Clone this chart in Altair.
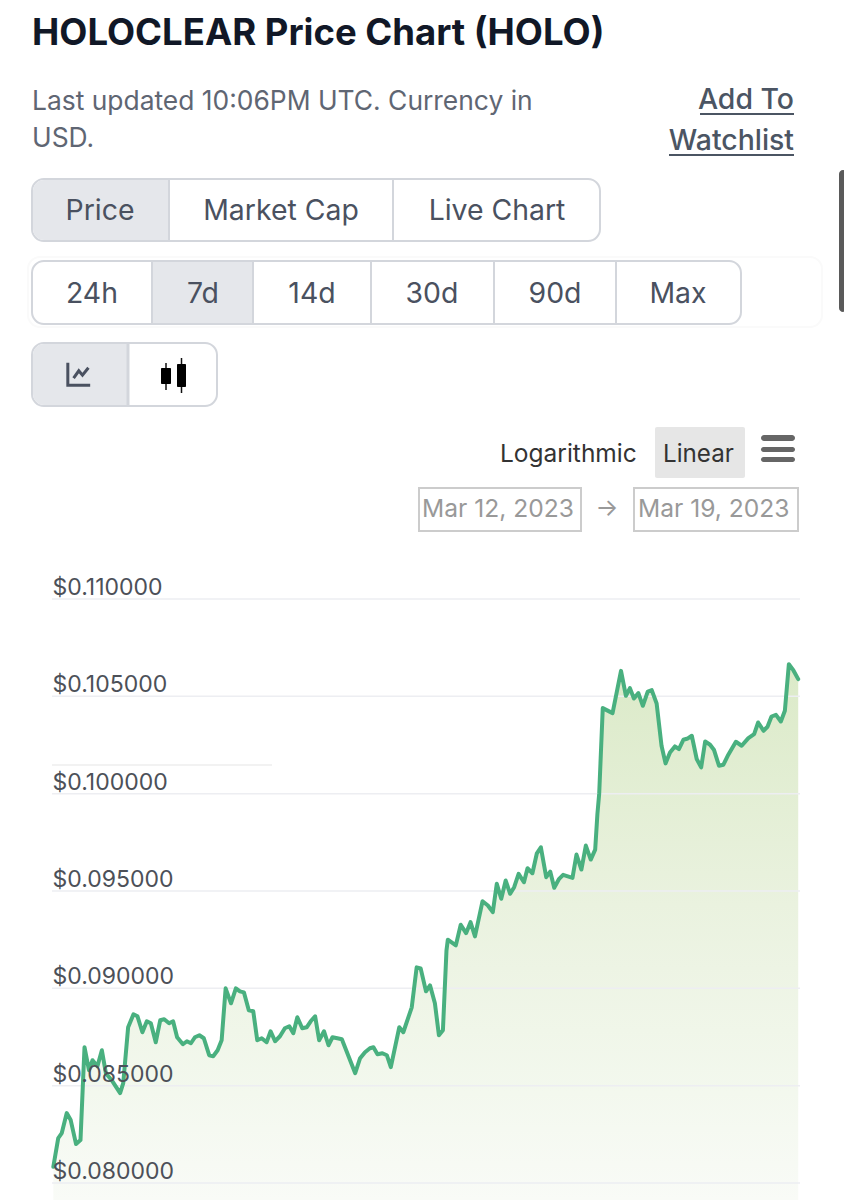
import altair as alt
import pandas as pd

# ---- chart data ----
hours = [0.3,1.4,2.2,3.3,4.2,5.4,6.4,7.3,8.3,9.1,10.2,11.2,12.1,13.4,15.3,16.0,17.1,18.3,19.2,20.3,
21.3,22.2,23.3,24.3,25.2,26.3,27.2,28.1,29.4,30.3,31.2,32.1,33.1,34.1,35.3,36.2,37.2,38.1,39.0,40.2,
41.3,42.2,43.1,44.2,45.2,46.1,47.1,48.2,49.1,50.1,51.2,52.3,53.3,54.2,55.1,56.2,57.2,58.1,59.1,60.0,
61.1,62.1,63.0,64.1,65.1,68.1,69.2,70.3,71.4,72.2,73.1,74.2,75.2,76.1,78.0,78.9,80.8,81.9,82.8,84.0,
84.9,86.0,86.9,87.8,88.6,88.9,90.7,91.8,93.0,94.0,95.0,96.7,97.9,99.0,99.9,100.9,101.9,102.9,103.8,104.8,
106.0,106.8,107.9,108.9,109.8,111.0,111.9,112.8,113.9,114.8,116.9,117.8,118.9,119.9,121.0,122.0,122.5,122.9,123.7,125.9,
127.8,128.9,129.8,130.7,131.7,132.7,133.8,134.7,135.8,136.9,137.8,138.8,139.9,140.8,141.8,142.8,143.7,144.8,145.8,146.7,
147.8,148.7,149.8,150.8,151.9,153.6,154.9,156.4,157.7,158.6,159.8,160.7,161.6,162.6,163.7,164.6,165.5,166.5,167.6]
prices = [0.080836,0.082308,0.082564,0.083590,0.083231,0.082000,0.082205,0.086974,0.085795,0.086308,
0.086000,0.086821,0.085641,0.085282,0.084615,0.085128,0.088000,0.088667,0.088564,0.087744,
0.088308,0.088205,0.087231,0.088359,0.088410,0.088205,0.088308,0.087487,0.087128,0.087282,
0.087179,0.087487,0.087590,0.087436,0.086564,0.086513,0.086821,0.087333,0.090000,0.089231,
0.090000,0.089846,0.089795,0.088872,0.088821,0.087333,0.087436,0.087231,0.087795,0.087282,
0.087538,0.087949,0.088051,0.087692,0.088513,0.087949,0.088000,0.088308,0.088564,0.087333,
0.087795,0.087077,0.087487,0.087436,0.087385,0.085641,0.086410,0.086718,0.086923,0.086974,
0.086615,0.086667,0.086564,0.085949,0.088000,0.087744,0.089026,0.091077,0.091026,0.089846,
0.090154,0.089231,0.087590,0.087846,0.091949,0.092497,0.092205,0.093267,0.092836,0.093400,
0.092667,0.094477,0.094256,0.093913,0.095369,0.094600,0.095538,0.094856,0.095195,0.095882,
0.095451,0.096169,0.095913,0.096938,0.097246,0.095708,0.096000,0.095164,0.095626,0.095831,
0.095677,0.096872,0.096103,0.097333,0.096615,0.097128,0.098959,0.100000,0.104395,0.104138,
0.106308,0.105026,0.105421,0.104887,0.105164,0.104513,0.105246,0.105318,0.104631,0.102462,
0.101554,0.102118,0.102426,0.102292,0.102769,0.102836,0.102974,0.101779,0.101349,0.102682,
0.102513,0.102241,0.101436,0.101487,0.102000,0.102667,0.102462,0.102856,0.103062,0.103656,
0.103231,0.103436,0.103964,0.104051,0.103708,0.104256,0.106651,0.106344,0.105882]
y_ticks = [0.08, 0.085, 0.09, 0.095, 0.10, 0.105, 0.11]
y_floor = 0.079127

# ---- page texts ----
title_text = "HOLOCLEAR Price Chart (HOLO)"
subtitle_lines = ["Last updated 10:06PM UTC. Currency in", "USD."]
watch_lines = ["Add To", "Watchlist"]
metric_buttons = ["Price", "Market Cap", "Live Chart"]
range_buttons = ["24h", "7d", "14d", "30d", "90d", "Max"]
date_texts = ["Mar 12, 2023", "Mar 19, 2023"]

FONT = "Inter"
X0, Y0 = 52, 599   # page position of the plot area's top-left corner
W, H = 748, 601


def vx(p):
    return alt.value(p - X0)


def vy(p):
    return alt.value(p - Y0)


one = pd.DataFrame({"a": [0]})


def text(s, x, y, size, color, align="left", weight=400, font=FONT):
    return alt.Chart(pd.DataFrame({"t": [s]})).mark_text(
        align=align, baseline="middle", fontSize=size, color=color,
        fontWeight=weight, font=font
    ).encode(x=vx(x), y=vy(y + 1.5), text="t:N")


def box(x1, x2, y1, y2, fill="white", stroke=None, sw=2, **kw):
    args = dict(fill=fill, **kw)
    if stroke:
        args.update(stroke=stroke, strokeWidth=sw)
    return alt.Chart(one).mark_rect(**args).encode(
        x=vx(x1), x2=vx(x2), y=vy(y1), y2=vy(y2))


def rule(x1, x2, y1, y2, color, sw=2):
    return alt.Chart(one).mark_rule(color=color, strokeWidth=sw).encode(
        x=vx(x1), x2=vx(x2), y=vy(y1), y2=vy(y2))


def icon(path, x, y, size, color, sw):
    return alt.Chart(one).mark_point(
        shape=path, size=size, filled=False, stroke=color, strokeWidth=sw, opacity=1
    ).encode(x=vx(x), y=vy(y))


BORDER = "#d3d6dc"
SEL = "#e5e7eb"
INK = "#4a5160"

chrome = [
    text(title_text, 32, 32, 36.5, "#111827", weight=700),
    text(subtitle_lines[0], 32, 100, 26.4, "#5f6673"),
    text(subtitle_lines[1], 32, 137, 26.4, "#5f6673"),
    text(watch_lines[0], 794, 98.5, 28.4, "#4b5563", align="right", weight=500),
    text(watch_lines[1], 794, 139.5, 28.4, "#4b5563", align="right", weight=500),
    rule(700, 794, 114, 114, "#4b5563"),
    rule(669, 794, 155, 155, "#4b5563"),
    # metric button group
    box(32, 600, 179, 241, stroke=BORDER, cornerRadius=12),
    box(33, 169, 180, 240, fill=SEL, cornerRadiusTopLeft=11, cornerRadiusBottomLeft=11),
    rule(169, 169, 179, 241, BORDER),
    rule(393, 393, 179, 241, BORDER),
    text(metric_buttons[0], 100, 209, 28.4, INK, align="center"),
    text(metric_buttons[1], 281, 209, 28.4, INK, align="center"),
    text(metric_buttons[2], 497, 209, 28.4, INK, align="center"),
    # range button group
    box(28, 822, 257, 327, fill="white", stroke="#fafafa", cornerRadius=12),
    box(32, 741, 261, 324, stroke=BORDER, cornerRadius=12),
    box(152, 253, 262, 323, fill=SEL),
    rule(152, 152, 261, 324, BORDER),
    rule(253, 253, 261, 324, BORDER),
    rule(371, 371, 261, 324, BORDER),
    rule(494, 494, 261, 324, BORDER),
    rule(616, 616, 261, 324, BORDER),
    text(range_buttons[0], 92, 292, 28.4, INK, align="center"),
    text(range_buttons[1], 203, 292, 28.4, INK, align="center"),
    text(range_buttons[2], 312, 292, 28.4, INK, align="center"),
    text(range_buttons[3], 432, 292, 28.4, INK, align="center"),
    text(range_buttons[4], 555, 292, 28.4, INK, align="center"),
    text(range_buttons[5], 678, 292, 28.4, INK, align="center"),
    # chart type toggle
    box(32, 217, 343, 406, stroke=BORDER, cornerRadius=12),
    box(33, 128, 344, 405, fill=SEL, cornerRadiusTopLeft=11, cornerRadiusBottomLeft=11),
    rule(128, 128, 343, 406, BORDER, 3),
    icon("M-1,-1 L-1,1 L1,1", 79, 374, 500, INK, 3),
    icon("M-1,0.7 L-0.3,-0.3 L0.2,0.3 L1,-0.7", 81, 373, 220, INK, 3),
    rule(166, 166, 363, 390, "#111111", 1.5),
    rule(181.5, 181.5, 358, 393, "#111111", 1.5),
    box(161, 171, 368, 384, fill="#000000", cornerRadius=1),
    box(177, 186, 364, 387, fill="#000000", cornerRadius=1),
    # scale switch and menu
    box(655, 745, 427, 478, fill="#e6e6e6", cornerRadius=2),
    text("Logarithmic", 500, 453, 24.5, "#333333"),
    text("Linear", 663, 453, 24.2, "#333333"),
    box(761, 795, 435, 441, fill="#666666", cornerRadius=3),
    box(761, 795, 447, 452, fill="#666666", cornerRadius=3),
    box(761, 795, 457, 462, fill="#666666", cornerRadius=3),
    # date range
    box(419, 581, 488, 531, stroke="#cccccc"),
    box(634, 798, 488, 531, stroke="#cccccc"),
    text(date_texts[0], 422, 508, 24.6, "#999999"),
    text(date_texts[1], 638, 508, 24.6, "#999999"),
    text("\u2192", 607, 507, 24, "#999999", align="center"),
    # page scrollbar
    box(839, 847, 170, 312, fill="#5a5a5a", cornerRadius=4),
]

df = pd.DataFrame({"hour": hours, "price": prices})
x_enc = alt.X("hour:Q", scale=alt.Scale(domain=[0, 168]), axis=None)
y_scale = alt.Scale(domain=[y_floor, 0.11], nice=False, zero=False)
y_axis = alt.Axis(
    title=None, values=y_ticks, format="$.6f", orient="left", grid=False,
    domain=False, ticks=False, labelAlign="left", labelBaseline="alphabetic",
    labelPadding=0, labelOffset=-4.5, labelFontSize=23, labelFont=FONT,
    labelColor="#4c5058", labelOverlap=False, labelFlush=False, zindex=1,
)

grid = alt.Chart(pd.DataFrame({"price": y_ticks})).mark_rule(
    color="#edeef2", strokeWidth=1.5
).encode(y=alt.Y("price:Q", scale=y_scale, axis=y_axis))

stub = rule(52, 272, 765, 765, "#eeeeee", 1.5)

area = alt.Chart(df).mark_area(
    line=False,
    color=alt.Gradient(
        gradient="linear",
        stops=[
            alt.GradientStop(color="#dbeac8", offset=0),
            alt.GradientStop(color="#eaf2df", offset=0.45),
            alt.GradientStop(color="#f3f8ee", offset=0.8),
            alt.GradientStop(color="#f9fbf7", offset=1),
        ],
        x1=0, x2=0, y1=0, y2=1,
    ),
).encode(
    x=x_enc,
    y=alt.Y("price:Q", scale=y_scale, axis=y_axis),
    y2=alt.Y2(datum=y_floor),
)

line = alt.Chart(df).mark_line(
    color="#49b07f", strokeWidth=4, strokeJoin="round", strokeCap="round"
).encode(x=x_enc, y=alt.Y("price:Q", scale=y_scale, axis=y_axis))

chart = alt.layer(*chrome, area, grid, stub, line).properties(
    width=W, height=H,
    autosize=alt.AutoSizeParams(type="none"),
    padding={"left": X0 - 8, "top": Y0 - 8, "right": 44, "bottom": 0},
    background="white",
).configure_view(stroke=None)

chart.save("out.html", embed_options={"renderer": "svg", "actions": False})
